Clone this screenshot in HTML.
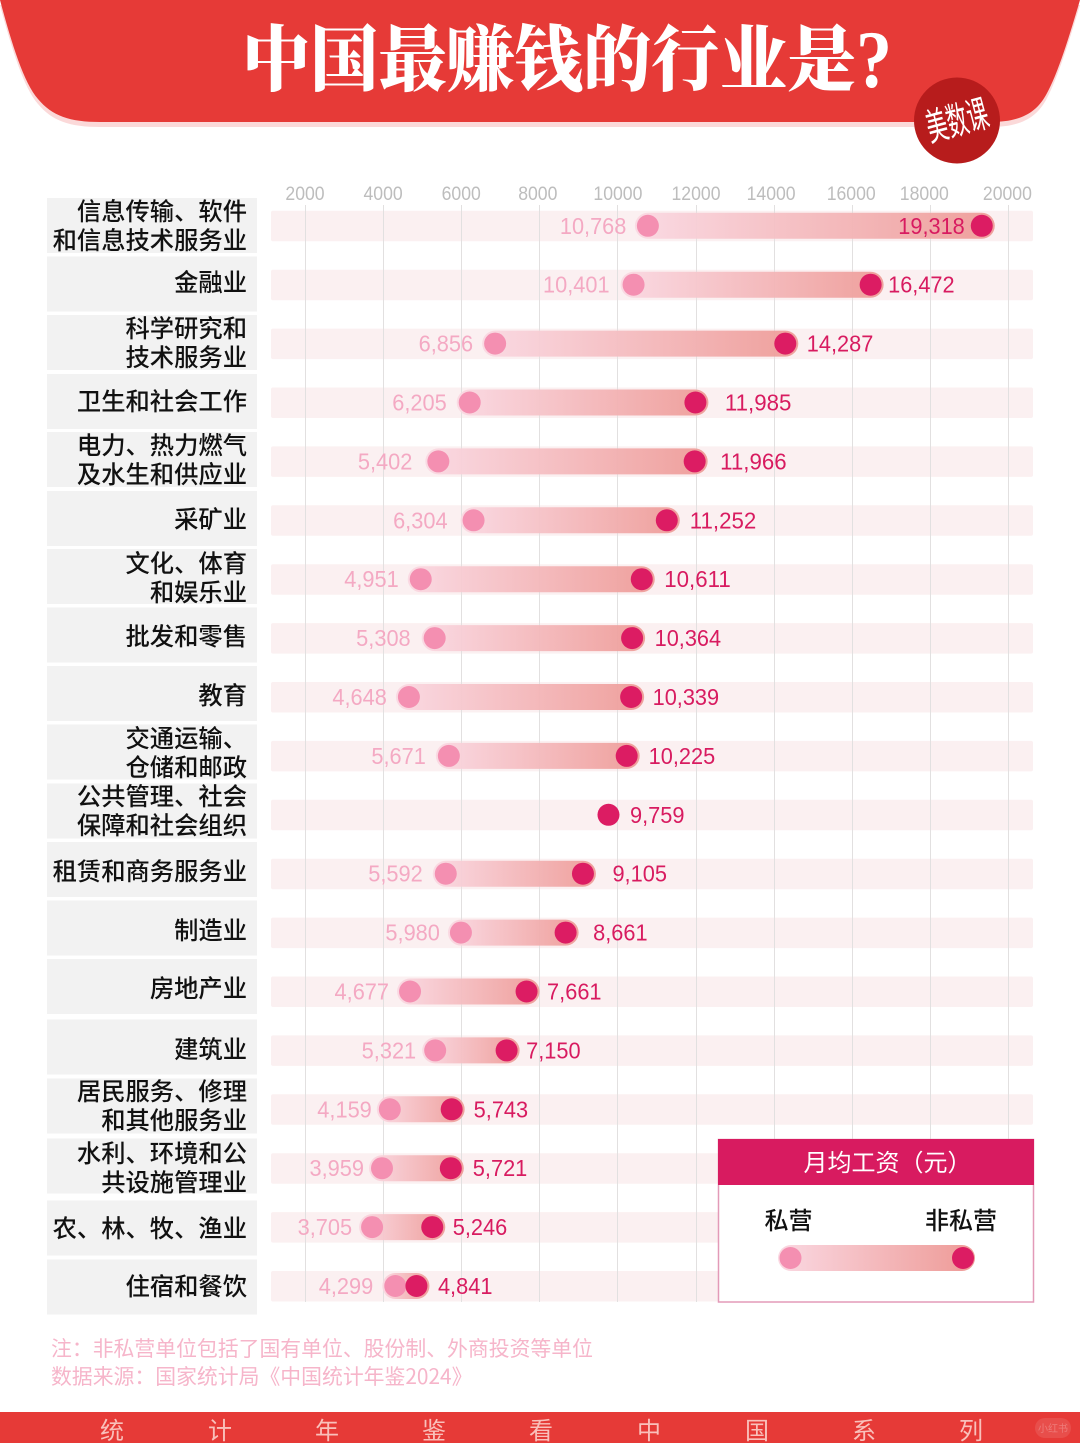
<!DOCTYPE html>
<html lang="zh">
<head>
<meta charset="utf-8">
<title>中国最赚钱的行业是?</title>
<style>
html,body{margin:0;padding:0;background:#fff;}
svg{display:block;}
text{font-family:"Liberation Sans","Noto Sans CJK SC",sans-serif;}
.serif{font-family:"Noto Serif CJK SC",serif;}
.cjk{font-family:"Noto Sans CJK SC","Liberation Sans",sans-serif;}
</style>
</head>
<body>
<svg id="chart" xmlns="http://www.w3.org/2000/svg" width="1080" height="1443" viewBox="0 0 1080 1443">
  <defs>
    <linearGradient id="barGrad" x1="0" y1="0" x2="1" y2="0">
      <stop offset="0" stop-color="#fad8e2"/>
      <stop offset="1" stop-color="#ee9a96"/>
    </linearGradient>
  </defs>
  <path d="M0 5 C12 50 24 88 38 104 C52 121 70 127 100 127 L990 127 C1020 127 1036 118 1046 100 C1058 78 1070 38 1080 5 Z" fill="#fbd9d9"/>
  <path d="M0 0 L1080 0 C1070 34 1058 74 1046 95 C1036 113 1020 122 990 122 L100 122 C70 122 52 116 38 99 C24 83 12 45 0 0 Z" fill="#e63a37"/>
  <text class="serif" x="242" y="85" font-size="72" font-weight="900" fill="#fff" textLength="614" lengthAdjust="spacingAndGlyphs">中国最赚钱的行业是</text>
  <text x="856" y="87" font-size="82" font-weight="700" fill="#fff" textLength="36" lengthAdjust="spacingAndGlyphs" style="font-family:'Liberation Serif',serif">?</text>
  <ellipse cx="957" cy="120.500" rx="43" ry="43" fill="#b71c1c"/>
  <text class="cjk" x="957" y="134" font-size="38" font-weight="400" fill="#fff" text-anchor="middle" textLength="63" lengthAdjust="spacingAndGlyphs" transform="rotate(-15 957 120)">美数课</text>

  <g id="labels"></g>
  <g id="bands"></g>
  <g id="grid"></g>
  <g id="ticks"></g>
  <g id="marks"></g>

  <g>
    <rect x="718.500" y="1139.500" width="315" height="162.500" fill="#fff" stroke="#e39ab8" stroke-width="1.500"/>
    <rect x="718" y="1139" width="316" height="46" fill="#d81b60"/>
    <text class="cjk" x="887.500" y="1171" font-size="24" fill="#fff" text-anchor="middle">月均工资（元）</text>
    <text class="cjk" x="788.500" y="1229" font-size="24" font-weight="500" fill="#111" text-anchor="middle">私营</text>
    <text class="cjk" x="961" y="1229" font-size="24" font-weight="500" fill="#111" text-anchor="middle">非私营</text>
    <rect x="778" y="1245" width="197" height="26" rx="13" fill="url(#barGrad)"/>
    <circle cx="790.500" cy="1258" r="11" fill="#f48fb1"/>
    <circle cx="963" cy="1258" r="11" fill="#dc1c63"/>
  </g>

  <text class="cjk" x="51" y="1356" font-size="20.850" fill="#f6b5ca">注：非私营单位包括了国有单位、股份制、外商投资等单位</text>
  <text class="cjk" x="51" y="1384" font-size="20.850" fill="#f6b5ca">数据来源：国家统计局《中国统计年鉴2024》</text>

  <rect x="0" y="1412" width="1080" height="31" fill="#e63a37"/>
  <g class="cjk" font-size="24" fill="#f9c0bb" text-anchor="middle">
    <text x="112" y="1439">统</text>
    <text x="220" y="1439">计</text>
    <text x="327" y="1439">年</text>
    <text x="434" y="1439">鉴</text>
    <text x="541" y="1439">看</text>
    <text x="649" y="1439">中</text>
    <text x="757" y="1439">国</text>
    <text x="864" y="1439">系</text>
    <text x="971" y="1439">列</text>
  </g>
  <rect x="1035" y="1418" width="36" height="20" rx="10" fill="#fff" fill-opacity="0.1"/>
  <text class="cjk" x="1053" y="1432" font-size="10" fill="#fff" fill-opacity="0.25" text-anchor="middle">小红书</text>
</svg>

<script>
// ---- data ----
const industries = [
  ["信息传输、软件","和信息技术服务业"],["金融业"],["科学研究和","技术服务业"],["卫生和社会工作"],
  ["电力、热力燃气","及水生和供应业"],["采矿业"],["文化、体育","和娱乐业"],["批发和零售"],["教育"],
  ["交通运输、","仓储和邮政"],["公共管理、社会","保障和社会组织"],["租赁和商务服务业"],["制造业"],
  ["房地产业"],["建筑业"],["居民服务、修理","和其他服务业"],["水利、环境和公","共设施管理业"],
  ["农、林、牧、渔业"],["住宿和餐饮"]
];
const privateWages = [10768,10401,6856,6205,5402,6304,4951,5308,4648,5671,null,5592,5980,4677,5321,4159,3959,3705,4299];
const nonPrivateWages = [19318,16472,14287,11985,11966,11252,10611,10364,10339,10225,9759,9105,8661,7661,7150,5743,5721,5246,4841];
const tickValues = [2000,4000,6000,8000,10000,12000,14000,16000,18000,20000];

// ---- layout (not data) ----
const labelCellCenters = [225.5,284,342.5,401.5,459.5,518.5,576.5,635,693.5,752,811,869.5,928,986.5,1047,1106,1166,1228,1287];
const labelTextCenters = [225.5,282,342.5,401,459.5,519,577.5,636,695,752.5,810.5,871,930,988,1049,1105.5,1167.5,1228,1286];
const privateLabelGap = [21.5,24,22,23,26,26,22,24,22,23,0,23,21,21,19,18,18,20,22];
const nonPrivateLabelGap = [0,17.5,21.5,29.5,25.5,23,22.5,22.5,21.5,22,21.5,29.5,27.5,20.5,19.5,22,22,20.5,21.5];
const tickLabelNudge = [-0.5,-0.5,-0.5,-2,0,0,-3,-1,-6,-1];

// ---- axis functions ----
const xScale = v => 305.5 + (v - 2000) * 0.03905;
const yCenter = i => 225.8 + i * 58.9;
const NS = "http://www.w3.org/2000/svg";
const mk = (tag, parent) => { const el = document.createElementNS(NS, tag); parent.appendChild(el); return el; };
const setAttrs = (el, a) => { for (const k in a) el.setAttribute(k, a[k]); return el; };
const numWidth = s => { let w = 0; for (const c of s) w += c === "," ? 6.5 : 12; return w; };
const fmt = v => v.toLocaleString("en-US");

const gLabels = document.getElementById("labels");
const gBands = document.getElementById("bands");
const gGrid = document.getElementById("grid");
const gTicks = document.getElementById("ticks");
const gMarks = document.getElementById("marks");

industries.forEach((lines, i) => {
  const cy = labelCellCenters[i];
  const cell = mk("rect", gLabels);
  setAttrs(cell, {x:47, y:cy-27.5, width:210, height:55, fill:"#f2f2f2"});
  
  
  lines.forEach((line, k) => {
    const t = mk("text", gLabels);
    const base = lines.length === 2 ? labelTextCenters[i] - 14.5 + k * 29 : labelTextCenters[i];
    setAttrs(t, {x:247, y:base+9, "font-size":24.3, "font-weight":500, "text-anchor":"end", fill:"#111"});
    t.setAttribute("class", "cjk");
    t.textContent = line;
    
    
  });
  const band = mk("rect", gBands);
  setAttrs(band, {x:271, y:yCenter(i)-15, width:762, height:30.5, rx:2, fill:"#fbf0f1"});
  
  
});

tickValues.forEach((v, i) => {
  const x = Math.round(xScale(v) - 0.5) + 0.5;
  const line = mk("line", gGrid);
  setAttrs(line, {x1:x, x2:x, y1:205, y2:1302, stroke:"#e2e0e0", "stroke-width":1});
  
  
  const t = mk("text", gTicks);
  const s = String(v);
  setAttrs(t, {x:xScale(v)+tickLabelNudge[i], y:200, "font-size":19, "text-anchor":"middle", fill:"#bdbdbd", textLength:s.length*9.8, lengthAdjust:"spacingAndGlyphs"});
  t.textContent = s;
  
  
});

nonPrivateWages.forEach((hi, i) => {
  const lo = privateWages[i];
  const y = yCenter(i);
  const xHi = xScale(hi);
  if (lo !== null) {
    const xLo = xScale(lo);
    const bar = mk("rect", gMarks);
    setAttrs(bar, {x:xLo-13, y:y-13, width:xHi-xLo+26, height:26, rx:13, fill:"url(#barGrad)", opacity:0.93});
    
    
    const dLo = mk("circle", gMarks);
    setAttrs(dLo, {cx:xLo, cy:y, r:11, fill:"#f48fb1"});
    
    
    const tLo = mk("text", gMarks);
    const sLo = fmt(lo);
    setAttrs(tLo, {x:xLo-privateLabelGap[i], y:y+8, "font-size":23.5, "text-anchor":"end", fill:"#f4a9c3", textLength:numWidth(sLo), lengthAdjust:"spacingAndGlyphs"});
    tLo.textContent = sLo;
    
    
  }
  const dHi = mk("circle", gMarks);
  setAttrs(dHi, {cx:xHi, cy:y, r:11, fill:"#dc1c63"});
  
  
  const tHi = mk("text", gMarks);
  const sHi = fmt(hi);
  const inside = i === 0;
  setAttrs(tHi, {x: inside ? xHi-17 : xHi+nonPrivateLabelGap[i], y:y+8, "font-size":23.5, "text-anchor": inside ? "end" : "start", fill:"#d81b60", textLength:numWidth(sHi), lengthAdjust:"spacingAndGlyphs"});
  tHi.textContent = sHi;
  
  
});
</script>
</body>
</html>
